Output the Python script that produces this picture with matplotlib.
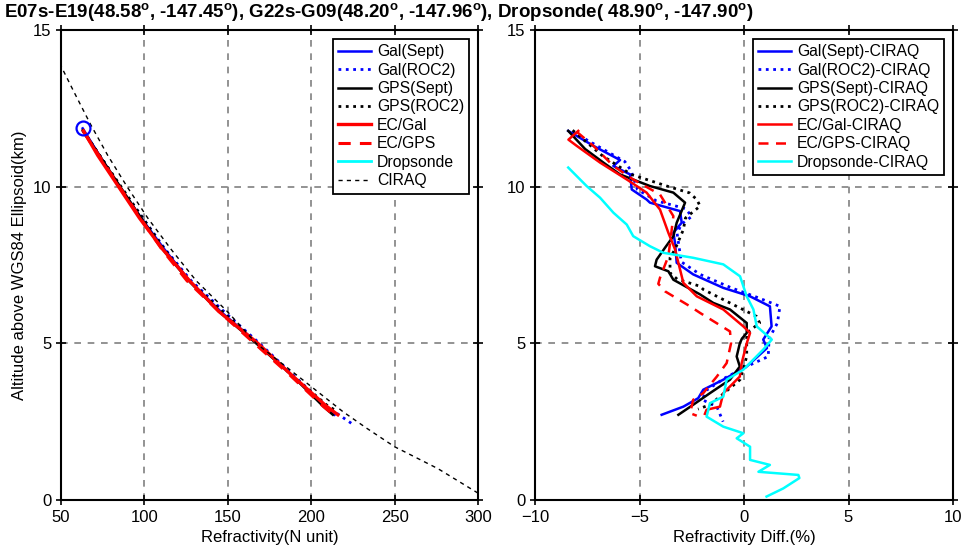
import matplotlib
matplotlib.use("Agg")
import matplotlib.pyplot as plt
import numpy as np

plt.rcParams['font.family'] = ['Liberation Sans', 'DejaVu Sans']
plt.rcParams['mathtext.fontset'] = 'custom'
plt.rcParams['mathtext.rm'] = 'Liberation Sans'
plt.rcParams['mathtext.default'] = 'regular'

# ---- left panel: refractivity profiles (h in km, N in N units)
ciraq_h = [0.22, 1, 1.7, 2.3, 2.82, 4, 5, 6, 7, 8, 9, 10, 11, 12, 13, 13.85]
ciraq_n = [300, 276, 250, 233, 219, 191, 167, 150, 131, 116, 102, 89.6, 78, 67.6, 58, 50]

gal_sept_h = [11.86, 11, 10, 9, 8, 7, 6, 5, 4, 3, 2.72]
gal_sept_n = [63, 73, 85, 98, 112, 127, 146, 168, 188, 208, 214]
gal_roc2_h = [11.8, 10, 9, 8, 7, 6, 5, 4, 3, 2.45]
gal_roc2_n = [63, 85.5, 99, 112.5, 128, 148, 169, 189, 209, 224]
gps_sept_h = [11.8, 10, 9, 8, 7, 6, 5, 4, 3, 2.72]
gps_sept_n = [63, 85.5, 98, 111, 126.5, 145, 167, 188, 207, 213]
gps_roc2_h = [11.8, 10, 9, 8, 7, 6, 5, 4, 3, 2.85]
gps_roc2_n = [63, 86, 99, 112, 127, 147, 168, 188, 210, 215]
ec_gal_h = [11.78, 11, 10, 9, 8, 7, 6, 5, 4, 3, 2.72]
ec_gal_n = [63.5, 72, 84.5, 97, 111, 127, 145, 168, 188, 209, 216]
ec_gps_h = [11.75, 10, 9, 8, 7, 6, 5, 4, 3, 2.69]
ec_gps_n = [63.5, 85, 97.5, 110.5, 125.5, 145, 166, 187, 207, 214]

# ---- right panel: difference to CIRAQ (%)
d_gal_sept_h = [11.78, 11.3, 10.85, 10.66, 10.39, 9.91, 9.59, 9.49, 9.22, 8.85, 8.53, 8.21,
                7.57, 7.20, 6.77, 6.50, 6.18, 5.54, 5.12, 4.85, 4.26, 3.84, 3.52, 3.25, 2.98, 2.72]
d_gal_sept = [-8.41, -7.2, -5.93, -6.25, -5.45, -5.37, -4.66, -4.50, -3.06, -2.98, -3.38, -3.30,
              -3.22, -2.43, -0.99, 0.29, 1.24, 1.32, 0.92, 1.1, 0.13, -0.99, -1.95, -2.19, -2.9, -3.94]
d_gal_roc2_h = [11.75, 10.8, 10.5, 9.91, 9.55, 9.3, 9.05, 8.8, 8.5, 7.6, 7.2, 6.77, 6.45,
                6.18, 5.65, 5.15, 4.58, 4.26, 3.9, 3.5, 3.2, 2.98, 2.5]
d_gal_roc2 = [-8.2, -5.7, -5.4, -5.1, -4.2, -2.8, -2.5, -3.0, -3.2, -3.0, -2.1, -0.6, 0.7,
              1.72, 1.6, 1.2, 1.16, 0.13, -0.9, -1.8, -2.0, -1.3, -1.0]
d_gps_sept_h = [11.78, 11.2, 10.77, 10.39, 10.02, 9.81, 9.49, 9.2, 8.85, 8.42, 8.05, 7.67, 7.46,
                7.30, 7.03, 6.56, 6.29, 6.08, 5.65, 5.33, 5.15, 5.0, 4.58, 4.26, 3.84, 3.41, 3.04, 2.72]
d_gps_sept = [-8.41, -7.6, -6.73, -5.93, -4.50, -3.38, -2.82, -3.0, -3.22, -3.38, -3.78, -4.18, -4.26,
              -3.62, -3.38, -2.1, -1.47, -0.67, 0.13, 0.13, -0.1, -0.2, -0.35, -0.2, -0.67, -1.63, -2.43, -3.14]
d_gps_roc2_h = [11.8, 11.0, 10.39, 10.0, 9.8, 9.59, 9.38, 9.0, 8.63, 8.0, 7.73, 7.25, 7.05,
                6.82, 6.72, 6.18, 5.86, 5.65, 5.33, 4.58, 3.84, 3.3, 3.04, 2.9]
d_gps_roc2 = [-8.2, -6.8, -5.4, -3.6, -2.6, -2.26, -2.1, -2.8, -2.9, -3.3, -3.54, -3.54, -3.2,
              -2.1, -1.95, -0.35, 0.6, 0.75, 0.13, 0.13, -0.19, -1.15, -1.63, -2.2]
d_ec_gal_h = [11.78, 11.5, 11.3, 10.77, 10.23, 9.81, 9.27, 8.53, 8.0, 7.57, 6.93, 6.5, 6.08,
              5.54, 5.33, 5.0, 4.37, 3.94, 3.41, 2.98, 2.88, 2.75]
d_ec_gal = [-7.93, -8.4, -8.0, -6.89, -5.61, -4.66, -4.02, -3.62, -3.3, -3.14, -2.9, -2.26, -0.99,
            -0.03, 0.29, 0.13, -0.11, -0.2, -0.99, -1.15, -1.79, -1.87]
d_ec_gps_h = [11.75, 11.3, 10.66, 10.23, 9.75, 9.06, 8.4, 7.78, 7.09, 6.9, 6.66, 6.18, 5.97,
              5.38, 5.0, 4.37, 3.94, 3.41, 3.2, 2.77, 2.69]
d_ec_gps = [-8.0, -7.2, -6.25, -5.3, -4.02, -3.38, -3.5, -3.62, -4.02, -4.1, -3.78, -2.58, -2.1,
            -0.67, -0.62, -0.83, -1.3, -1.95, -2.43, -2.58, -2.26]
d_drop_h = [10.61, 10.02, 9.65, 9.17, 8.79, 8.42, 8.1, 7.89, 7.73, 7.52, 7.14, 6.5, 6.08, 5.54,
            5.12, 4.8, 4.16, 3.84, 3.6, 3.3, 3.09, 2.66, 2.34, 2.13, 1.97, 1.7, 1.28, 1.12,
            0.9, 0.8, 0.7, 0.37, 0.11]
d_drop = [-8.41, -7.53, -6.89, -6.25, -5.61, -5.3, -4.5, -3.86, -2.43, -0.99, -0.19, 0.13, 0.45, 0.61,
          1.33, 0.92, -0.03, -0.83, -0.9, -0.99, -1.63, -1.79, -0.99, -0.03, -0.35, 0.29, 0.29, 1.24,
          0.69, 2.6, 2.65, 1.88, 1.08]

title = ("E07s-E19(48.58$^o$, -147.45$^o$), G22s-G09(48.20$^o$, -147.96$^o$), "
         "Dropsonde( 48.90$^o$, -147.90$^o$)")

fig = plt.figure(figsize=(9.64, 5.54), dpi=100)
ax1 = fig.add_axes([61/964, 1-500/554, 417/964, 470/554])
ax2 = fig.add_axes([535/964, 1-500/554, 418/964, 470/554])

cyan = '#00ffff'
leg_kw = dict(loc='upper right', fontsize=11.3, handlelength=2.1, handletextpad=0.35,
              labelspacing=0.22, borderpad=0.35, borderaxespad=0.55, fancybox=False,
              edgecolor='black', framealpha=1)


def style_axes(ax):
    ax.grid(True, color='#808080', linestyle=(0, (4, 4)), linewidth=1.2)
    ax.set_axisbelow(True)
    for s in ax.spines.values():
        s.set_linewidth(1.5)
    ax.tick_params(direction='inout', length=7, width=1.2, top=True, right=True,
                   labelsize=12)


# left
ax1.plot(gal_sept_n, gal_sept_h, color='blue', lw=1.8, label='Gal(Sept)')
ax1.plot(gal_roc2_n, gal_roc2_h, color='blue', lw=2, ls=':', label='Gal(ROC2)')
ax1.plot(gps_sept_n, gps_sept_h, color='black', lw=1.8, label='GPS(Sept)')
ax1.plot(gps_roc2_n, gps_roc2_h, color='black', lw=2, ls=':', label='GPS(ROC2)')
ax1.plot(ec_gal_n, ec_gal_h, color='red', lw=2.4, label='EC/Gal')
ax1.plot(ec_gps_n, ec_gps_h, color='red', lw=2.2, ls=(0, (4, 3)), label='EC/GPS')
ax1.plot([], [], color=cyan, lw=2, label='Dropsonde')
ax1.plot(ciraq_n, ciraq_h, color='black', lw=1, ls=(0, (3, 3)), label='CIRAQ')
ax1.plot(gal_sept_n[0], gal_sept_h[0], 'o', mfc='none', mec='blue', ms=10, mew=1.6)
ax1.set_xlim(50, 300)
ax1.set_ylim(0, 15)
ax1.set_xticks([50, 100, 150, 200, 250, 300])
ax1.set_yticks([0, 5, 10, 15])
ax1.set_xlabel('Refractivity(N unit)', fontsize=12)
ax1.set_ylabel('Altitude above WGS84 Ellipsoid(km)', fontsize=12)
style_axes(ax1)
leg1 = ax1.legend(**leg_kw)
leg1.get_frame().set_linewidth(1.3)

# right
ax2.plot(d_gal_sept, d_gal_sept_h, color='blue', lw=1.8, label='Gal(Sept)-CIRAQ')
ax2.plot(d_gal_roc2, d_gal_roc2_h, color='blue', lw=2, ls=':', label='Gal(ROC2)-CIRAQ')
ax2.plot(d_gps_sept, d_gps_sept_h, color='black', lw=1.8, label='GPS(Sept)-CIRAQ')
ax2.plot(d_gps_roc2, d_gps_roc2_h, color='black', lw=2, ls=':', label='GPS(ROC2)-CIRAQ')
ax2.plot(d_ec_gal, d_ec_gal_h, color='red', lw=1.8, label='EC/Gal-CIRAQ')
ax2.plot(d_ec_gps, d_ec_gps_h, color='red', lw=1.8, ls=(0, (4, 3)), label='EC/GPS-CIRAQ')
ax2.plot(d_drop, d_drop_h, color=cyan, lw=1.8, label='Dropsonde-CIRAQ')
ax2.set_xlim(-10, 10)
ax2.set_ylim(0, 15)
ax2.set_xticks([-10, -5, 0, 5, 10])
ax2.set_yticks([0, 5, 10, 15])
ax2.set_xlabel('Refractivity Diff.(%)', fontsize=12)
style_axes(ax2)
leg2 = ax2.legend(**leg_kw)
leg2.get_frame().set_linewidth(1.3)

fig.text(4/964, 1-12/554, title, fontsize=13.5, fontweight='bold', va='center', ha='left')

fig.savefig('out.png', dpi=100)
